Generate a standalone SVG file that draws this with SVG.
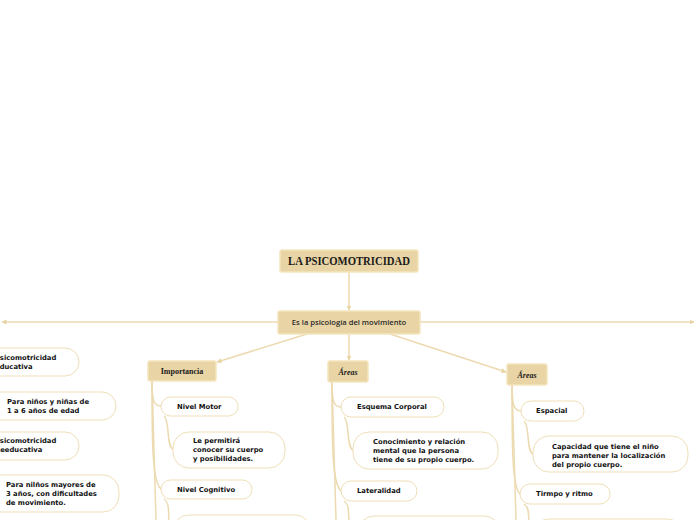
<svg xmlns="http://www.w3.org/2000/svg" width="696" height="520" viewBox="0 0 696 520">
<defs>
<marker id="ah" viewBox="0 0 10 10" refX="9" refY="5" markerWidth="5" markerHeight="5" orient="auto-start-reverse" markerUnits="userSpaceOnUse">
<path d="M0,0 L10,5 L0,10 Z" fill="#e8d3a3"/>
</marker>
</defs>
<style>
.main{fill:#e8d4a5;stroke:#f4e5bd;stroke-width:1.5}
.pill{fill:#ffffff;stroke:#efdfb8;stroke-width:1}
.con{fill:none;stroke:#ecdab0;stroke-width:1.5}
.t{font-family:"DejaVu Sans",Verdana,sans-serif;font-weight:bold;font-size:6.8px;fill:#111}
.ser{font-family:"Liberation Serif","Times New Roman",serif;font-weight:bold;fill:#1a1a1a}
.sub{font-family:"Open Sans","Noto Sans",sans-serif;font-weight:600;font-size:7.6px;fill:#2a2a2a}
</style>
<rect width="696" height="520" fill="#ffffff"/>
<g id="connectors">
<path class="con" d="M349,272 L349,310" marker-end="url(#ah)"/>
<path class="con" d="M278,322 L2,322" marker-end="url(#ah)"/>
<path class="con" d="M420,322 L694,322" marker-end="url(#ah)"/>
<path class="con" d="M307,334 L217,362" marker-end="url(#ah)"/>
<path class="con" d="M349,334 L349,360" marker-end="url(#ah)"/>
<path class="con" d="M390,334 L506,372" marker-end="url(#ah)"/>
<path class="con" d="M152,381 C152,398 153,406 161,406"/>
<path class="con" d="M152,381 C152,440 152,482 161,489"/>
<path class="con" d="M152,381 C154,440 155,490 156,520"/>
<path class="con" d="M164,416 C170,420 166,446 173,449"/>
<path class="con" d="M164,499 C170,503 168,512 169,520"/>
<path class="con" d="M332,382 C332,399 333,407 341,407"/>
<path class="con" d="M332,382 C332,440 332,484 341,491"/>
<path class="con" d="M332,382 C334,440 335,490 336,520"/>
<path class="con" d="M344,417 C350,421 346,447 353,450"/>
<path class="con" d="M344,501 C350,505 348,513 349,520"/>
<path class="con" d="M512,385 C512,402 513,411 521,411"/>
<path class="con" d="M512,385 C512,444 512,487 520,494"/>
<path class="con" d="M512,385 C514,444 515,495 516,520"/>
<path class="con" d="M524,421 C530,425 526,451 533,454"/>
<path class="con" d="M524,504 C530,508 528,515 529,520"/>
</g>
<g id="root"><rect class="main" x="280" y="250" width="138" height="22" rx="2"/>
<text class="ser" x="349" y="265" font-size="11.5" text-anchor="middle" textLength="122" lengthAdjust="spacingAndGlyphs">LA PSICOMOTRICIDAD</text></g>
<g id="def"><rect class="main" x="278" y="311" width="142" height="23" rx="2"/>
<text class="sub" x="349" y="325" text-anchor="middle">Es la psicología del movimiento</text></g>
<g id="importancia"><rect class="main" x="148" y="361" width="68" height="20" rx="2"/>
<text class="ser" x="182" y="374" font-size="8" text-anchor="middle">Importancia</text></g>
<g id="areas1"><rect class="main" x="328" y="361" width="40" height="21" rx="2"/>
<text class="ser" x="348" y="375" font-size="8" font-style="italic" text-anchor="middle">Áreas</text></g>
<g id="areas2"><rect class="main" x="507" y="364" width="40" height="21" rx="2"/>
<text class="ser" x="527" y="378" font-size="8" font-style="italic" text-anchor="middle">Áreas</text></g>
<g id="n-motor"><rect class="pill" x="161" y="397" width="77" height="19" rx="9.5"/>
<text class="t" x="177" y="409">Nivel Motor</text></g>
<g id="n-motor-d"><rect class="pill" x="173" y="432" width="112" height="36" rx="16"/>
<text class="t" x="193" y="443">Le permitirá</text><text class="t" x="193" y="452">conocer su cuerpo</text><text class="t" x="193" y="461">y posibilidades.</text></g>
<g id="n-cog"><rect class="pill" x="161" y="480" width="91" height="19" rx="9.5"/>
<text class="t" x="177" y="492">Nivel Cognitivo</text></g>
<g id="n-cog-d"><rect class="pill" x="173" y="515" width="138" height="36" rx="16"/></g>
<g id="esquema"><rect class="pill" x="341" y="397" width="103" height="20" rx="10"/>
<text class="t" x="357" y="409">Esquema Corporal</text></g>
<g id="esquema-d"><rect class="pill" x="353" y="432" width="145" height="37" rx="16"/>
<text class="t" x="373" y="444">Conocimiento y relación</text><text class="t" x="373" y="453">mental que la persona</text><text class="t" x="373" y="462">tiene de su propio cuerpo.</text></g>
<g id="lateralidad"><rect class="pill" x="341" y="481" width="76" height="20" rx="10"/>
<text class="t" x="357" y="493">Lateralidad</text></g>
<g id="lateralidad-d"><rect class="pill" x="358" y="516" width="142" height="36" rx="16"/></g>
<g id="espacial"><rect class="pill" x="521" y="401" width="63" height="20" rx="10"/>
<text class="t" x="536" y="413">Espacial</text></g>
<g id="espacial-d"><rect class="pill" x="533" y="436" width="155" height="36" rx="16"/>
<text class="t" x="552" y="449">Capacidad que tiene el niño</text><text class="t" x="552" y="458">para mantener la localización</text><text class="t" x="552" y="467">del propio cuerpo.</text></g>
<g id="tiempo"><rect class="pill" x="520" y="484" width="90" height="20" rx="10"/>
<text class="t" x="536" y="496">Tirmpo y ritmo</text></g>
<g id="tiempo-d"><rect class="pill" x="533" y="519" width="150" height="36" rx="16"/></g>
<g id="educativa"><rect class="pill" x="-30" y="348" width="109" height="28" rx="14"/>
<text class="t" x="-5" y="360">Psicomotricidad</text><text class="t" x="-5" y="369">Educativa</text></g>
<g id="educativa-d"><rect class="pill" x="-15" y="392" width="131" height="28" rx="14"/>
<text class="t" x="7" y="404">Para niños y niñas de</text><text class="t" x="7" y="413">1 a 6 años de edad</text></g>
<g id="reeducativa"><rect class="pill" x="-30" y="432" width="109" height="28" rx="14"/>
<text class="t" x="-5" y="443">Psicomotricidad</text><text class="t" x="-5" y="452">Reeducativa</text></g>
<g id="reeducativa-d"><rect class="pill" x="-15" y="475" width="134" height="37" rx="16"/>
<text class="t" x="6" y="487">Para nilños mayores de</text><text class="t" x="6" y="496">3 años, con dificultades</text><text class="t" x="6" y="505">de movimiento.</text></g>
</svg>
